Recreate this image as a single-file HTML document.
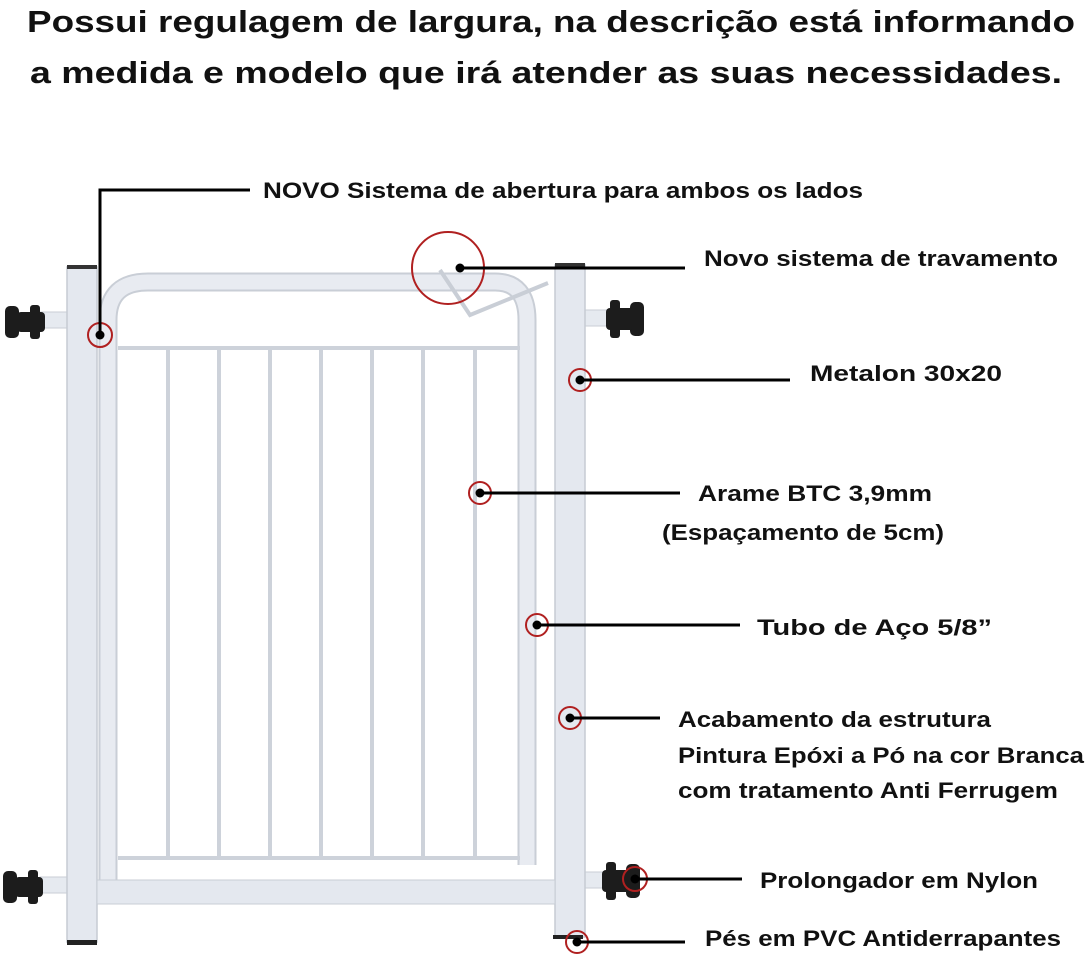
<!DOCTYPE html>
<html><head><meta charset="utf-8"><style>
html,body{margin:0;padding:0;background:#fff;}
svg{display:block;}
text{font-family:"Liberation Sans",sans-serif;fill:#111;}
</style></head><body>
<svg width="1088" height="959" viewBox="0 0 1088 959" xmlns="http://www.w3.org/2000/svg">
<text x="27" y="32" font-size="31" font-weight="bold" textLength="1048" lengthAdjust="spacingAndGlyphs">Possui regulagem de largura, na descrição está informando</text>
<text x="30" y="83" font-size="31" font-weight="bold" textLength="1032" lengthAdjust="spacingAndGlyphs">a medida e modelo que irá atender as suas necessidades.</text>

<!-- knob connectors -->
<g fill="#e6eaf0" stroke="#c9ced6">
<rect x="40" y="312" width="30" height="16"/>
<rect x="40" y="877" width="30" height="16"/>
<rect x="583" y="310" width="25" height="16"/>
<rect x="583" y="872" width="25" height="16"/>
</g>
<!-- posts -->
<g fill="#e4e8ef" stroke="#c6cbd3" stroke-width="1.5">
<rect x="67" y="267" width="30" height="675"/>
<rect x="555" y="265" width="30" height="672"/>
</g>
<rect x="67" y="265" width="30" height="4" fill="#333"/>
<rect x="67" y="940" width="30" height="5" fill="#222"/>
<rect x="555" y="263" width="30" height="4" fill="#333"/>
<rect x="553" y="935" width="30" height="4" fill="#222"/>

<!-- gate tube -->
<path d="M108 895 L108 320 Q108 282 148 282 L495 282 Q527 282 527 320 L527 865" fill="none" stroke="#c9ced6" stroke-width="19"/>
<path d="M108 895 L108 320 Q108 282 148 282 L495 282 Q527 282 527 320 L527 865" fill="none" stroke="#e8ebf1" stroke-width="15"/>
<!-- bottom bar -->
<rect x="97" y="880" width="458" height="24" fill="#e4e8ef" stroke="#c9ced6"/>
<!-- panel -->
<g stroke="#cdd2da" stroke-width="4" fill="none">
<line x1="118" y1="348" x2="520" y2="348"/>
<line x1="118" y1="858" x2="520" y2="858"/>
<line x1="168" y1="348" x2="168" y2="858"/>
<line x1="219" y1="348" x2="219" y2="858"/>
<line x1="270" y1="348" x2="270" y2="858"/>
<line x1="321" y1="348" x2="321" y2="858"/>
<line x1="372" y1="348" x2="372" y2="858"/>
<line x1="423" y1="348" x2="423" y2="858"/>
<line x1="475" y1="348" x2="475" y2="858"/>
</g>
<path d="M440 270 L470 315 L548 283" fill="none" stroke="#c9ced6" stroke-width="4"/>

<!-- knobs -->
<g fill="#1c1c1c">
<rect x="5" y="306" width="14" height="32" rx="5"/><rect x="17" y="312" width="28" height="20" rx="4"/><rect x="30" y="305" width="10" height="34" rx="3"/>
<rect x="3" y="871" width="14" height="32" rx="5"/><rect x="15" y="877" width="28" height="20" rx="4"/><rect x="28" y="870" width="10" height="34" rx="3"/>
<rect x="630" y="302" width="14" height="34" rx="5"/><rect x="606" y="308" width="28" height="22" rx="4"/><rect x="610" y="300" width="10" height="38" rx="3"/>
<rect x="626" y="864" width="14" height="34" rx="5"/><rect x="602" y="870" width="28" height="22" rx="4"/><rect x="606" y="862" width="10" height="38" rx="3"/>
</g>

<!-- red circles -->
<g fill="none" stroke="#b02020" stroke-width="2">
<circle cx="100" cy="335" r="12"/>
<circle cx="448" cy="268" r="36"/>
<circle cx="580" cy="380" r="11"/>
<circle cx="480" cy="493" r="11"/>
<circle cx="537" cy="625" r="11"/>
<circle cx="570" cy="718" r="11"/>
<circle cx="635" cy="879" r="12"/>
<circle cx="577" cy="942" r="11"/>
</g>
<!-- leader lines -->
<g stroke="#000" stroke-width="3" fill="none">
<path d="M100 335 L100 190 L250 190"/>
<line x1="460" y1="268" x2="685" y2="268"/>
<line x1="580" y1="380" x2="790" y2="380"/>
<line x1="480" y1="493" x2="680" y2="493"/>
<line x1="537" y1="625" x2="740" y2="625"/>
<line x1="570" y1="718" x2="660" y2="718"/>
<line x1="635" y1="879" x2="742" y2="879"/>
<line x1="577" y1="942" x2="685" y2="942"/>
</g>
<g fill="#000">
<circle cx="100" cy="335" r="4.5"/><circle cx="460" cy="268" r="4.5"/><circle cx="580" cy="380" r="4.5"/>
<circle cx="480" cy="493" r="4.5"/><circle cx="537" cy="625" r="4.5"/><circle cx="570" cy="718" r="4.5"/>
<circle cx="635" cy="879" r="4.5"/><circle cx="577" cy="942" r="4.5"/>
</g>

<!-- labels -->
<g font-size="22" font-weight="bold">
<text x="263" y="198" textLength="600" lengthAdjust="spacingAndGlyphs">NOVO Sistema de abertura para ambos os lados</text>
<text x="704" y="266" textLength="354" lengthAdjust="spacingAndGlyphs">Novo sistema de travamento</text>
<text x="810" y="381" textLength="192" lengthAdjust="spacingAndGlyphs">Metalon 30x20</text>
<text x="698" y="501" textLength="234" lengthAdjust="spacingAndGlyphs">Arame BTC 3,9mm</text>
<text x="662" y="540" textLength="282" lengthAdjust="spacingAndGlyphs">(Espaçamento de 5cm)</text>
<text x="757" y="635" textLength="235" lengthAdjust="spacingAndGlyphs">Tubo de Aço 5/8”</text>
<text x="678" y="727" textLength="313" lengthAdjust="spacingAndGlyphs">Acabamento da estrutura</text>
<text x="678" y="763" textLength="406" lengthAdjust="spacingAndGlyphs">Pintura Epóxi a Pó na cor Branca</text>
<text x="678" y="798" textLength="380" lengthAdjust="spacingAndGlyphs">com tratamento Anti Ferrugem</text>
<text x="760" y="888" textLength="278" lengthAdjust="spacingAndGlyphs">Prolongador em Nylon</text>
<text x="705" y="946" textLength="356" lengthAdjust="spacingAndGlyphs">Pés em PVC Antiderrapantes</text>
</g>
</svg>
</body></html>
